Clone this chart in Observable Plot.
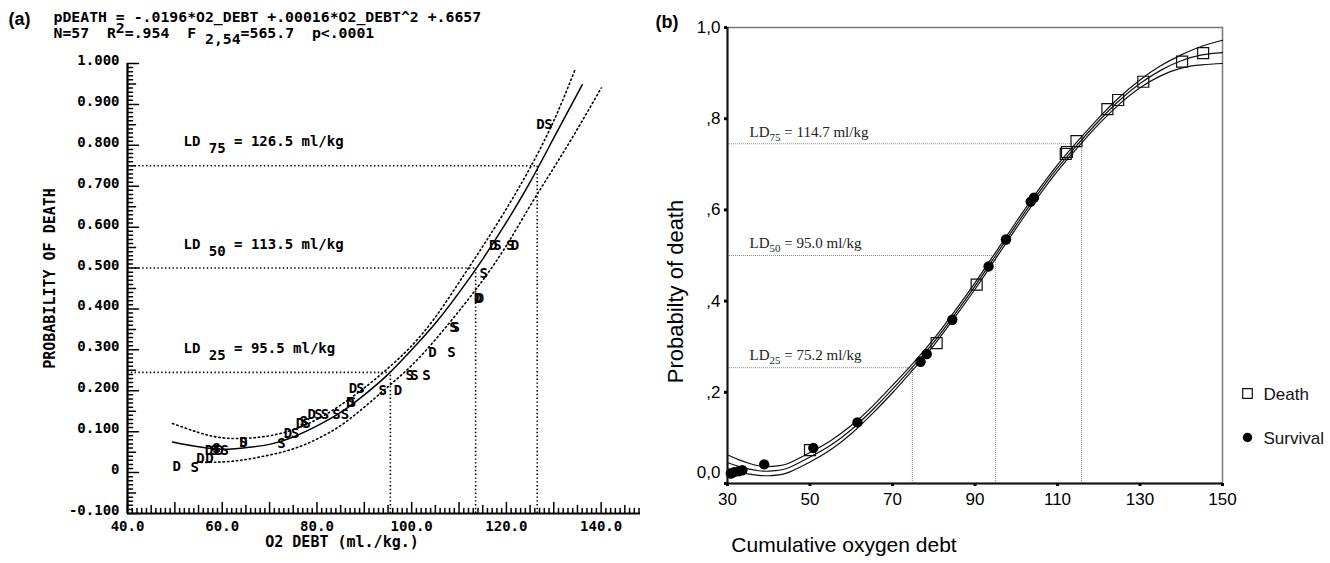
<!DOCTYPE html>
<html><head><meta charset="utf-8">
<script src="https://cdn.jsdelivr.net/npm/d3@7"></script>
<script src="https://cdn.jsdelivr.net/npm/@observablehq/plot@0.6"></script>
<style>
html,body{margin:0;padding:0;background:#fff;}
#wrap{position:relative;width:1330px;height:563px;overflow:hidden;background:#fff;}
#pa{position:absolute;left:0;top:0;}
#pb{position:absolute;left:640px;top:0;}
svg text{white-space:pre;}
</style></head><body><div id="wrap"><div id="pa"></div><div id="pb"></div></div>
<script>
// ---------- Panel (a) data ----------
const aXDomain = [40, 150];
const aYDomain = [-0.1, 1.0];
const aXTicks = [40, 60, 80, 100, 120, 140];
const aXTickLabels = ["40.0", "60.0", "80.0", "100.0", "120.0", "140.0"];
const aYTicks = [-0.1, 0, 0.1, 0.2, 0.3, 0.4, 0.5, 0.6, 0.7, 0.8, 0.9, 1.0];
const aYTickLabels = ["-0.100", "0", "0.100", "0.200", "0.300", "0.400", "0.500", "0.600", "0.700", "0.800", "0.900", "1.000"];

const aFitX = [49.5, 55, 60, 65, 70, 75, 80, 85, 90, 95, 100, 105, 110, 115, 120, 125, 130, 136];
const aFitY = [0.075, 0.063, 0.057, 0.061, 0.069, 0.087, 0.114, 0.147, 0.19, 0.24, 0.30, 0.365, 0.44, 0.522, 0.612, 0.71, 0.818, 0.948];
const aUpperX = [49.5, 55, 60, 65, 70, 75, 80, 85, 90, 95, 100, 105, 110, 115, 120, 125, 130, 134.5];
const aUpperY = [0.12, 0.098, 0.085, 0.084, 0.09, 0.105, 0.13, 0.165, 0.207, 0.255, 0.31, 0.38, 0.465, 0.553, 0.645, 0.745, 0.86, 0.985];
const aLowerX = [54.6, 60, 65, 70, 75, 80, 85, 90, 95, 100, 105, 110, 115, 120, 125, 130, 135, 140];
const aLowerY = [0.025, 0.026, 0.032, 0.043, 0.058, 0.082, 0.115, 0.16, 0.21, 0.262, 0.325, 0.395, 0.47, 0.555, 0.652, 0.745, 0.84, 0.94];

const aPtX = [50.4, 54.2, 55.4, 57.3, 57.2, 58.3, 59.4, 60.5, 58.8, 64.5, 64.5, 72.5, 73.9, 75.4, 76.4, 77.8, 77.2, 78.9, 80.3, 81.7, 84.1, 85.9, 87.0, 87.4, 87.6, 89.2, 93.9, 97.1, 99.6, 100.6, 103.1, 104.4, 108.4, 108.8, 109.3, 114.0, 114.4, 115.2, 117.2, 118.1, 120.8, 121.8, 127.2, 128.9];
const aPtY = [0.015, 0.013, 0.034, 0.034, 0.055, 0.055, 0.055, 0.055, 0.058, 0.074, 0.074, 0.072, 0.095, 0.095, 0.12, 0.12, 0.125, 0.143, 0.143, 0.143, 0.143, 0.143, 0.172, 0.172, 0.205, 0.205, 0.2, 0.2, 0.237, 0.237, 0.237, 0.294, 0.294, 0.354, 0.354, 0.425, 0.425, 0.486, 0.554, 0.554, 0.554, 0.554, 0.852, 0.852];
const aPtL = ["D", "S", "D", "D", "D", "S", "D", "S", "S", "D", "S", "S", "D", "S", "D", "S", "S", "D", "S", "S", "S", "S", "D", "S", "D", "S", "S", "D", "S", "S", "S", "D", "S", "S", "S", "D", "D", "S", "D", "S", "S", "D", "D", "S"];

const aLDLevels = [0.245, 0.5, 0.75];
const aLDValues = [95.5, 113.5, 126.5];
const aLDLabels = ["LD 25 = 95.5 ml/kg", "LD 50 = 113.5 ml/kg", "LD 75 = 126.5 ml/kg"];

const aHeader1 = "pDEATH = -.0196*O2_DEBT +.00016*O2_DEBT^2 +.6657";
const aHeader2 = "N=57  R2=.954  F2,54=565.7  p<.0001";
const aXLabel = "O2 DEBT (ml./kg.)";
const aYLabel = "PROBABILITY OF DEATH";

// ---------- Panel (b) data ----------
const bXDomain = [30, 150];
const bYDomain = [0, 1];
const bXTicks = [30, 50, 70, 90, 110, 130, 150];
const bXTickLabels = ["30", "50", "70", "90", "110", "130", "150"];
const bYTicks = [0, 0.2, 0.4, 0.6, 0.8, 1.0];
const bYTickLabels = ["0,0", ",2", ",4", ",6", ",8", "1,0"];

const bCurveX = [30, 32.5, 35, 37.5, 40, 42.5, 45, 50, 55, 60, 65, 70, 75, 80, 85, 90, 95, 100, 105, 110, 115, 120, 125, 130, 135, 140, 145, 150];
const bFitY = [0.046, 0.038, 0.032, 0.028, 0.027, 0.029, 0.035, 0.058, 0.084, 0.118, 0.16, 0.207, 0.257, 0.31, 0.37, 0.433, 0.50, 0.567, 0.632, 0.692, 0.745, 0.795, 0.84, 0.877, 0.906, 0.927, 0.94, 0.945];
const bUpperY = [0.063, 0.053, 0.045, 0.039, 0.037, 0.039, 0.045, 0.068, 0.094, 0.127, 0.168, 0.215, 0.264, 0.317, 0.377, 0.44, 0.507, 0.574, 0.639, 0.699, 0.752, 0.802, 0.847, 0.885, 0.916, 0.94, 0.959, 0.972];
const bLowerY = [0.032, 0.026, 0.021, 0.018, 0.017, 0.019, 0.025, 0.047, 0.074, 0.109, 0.152, 0.199, 0.25, 0.303, 0.363, 0.426, 0.493, 0.56, 0.625, 0.685, 0.738, 0.788, 0.832, 0.868, 0.894, 0.911, 0.918, 0.921];

const bSurvX = [30.8, 31.6, 32.8, 33.6, 38.9, 50.8, 61.5, 76.8, 78.3, 84.5, 93.3, 97.5, 103.5, 104.3];
const bSurvY = [0.022, 0.025, 0.027, 0.029, 0.042, 0.078, 0.134, 0.267, 0.284, 0.359, 0.476, 0.535, 0.618, 0.627];
const bDeathX = [50.0, 80.7, 90.4, 112.0, 112.3, 114.6, 122.1, 124.7, 130.8, 140.2, 145.3];
const bDeathY = [0.073, 0.308, 0.436, 0.723, 0.727, 0.751, 0.821, 0.841, 0.881, 0.925, 0.944];

const bLDLevels = [0.254, 0.5, 0.745];
const bLDValues = [74.8, 95.0, 115.8];
const bLDLabels = ["LD25 = 75.2 ml/kg", "LD50 = 95.0 ml/kg", "LD75 = 114.7 ml/kg"];

const bXLabel = "Cumulative oxygen debt";
const bYLabel = "Probabilty of death";
const bLegend = ["Death", "Survival"];

// ---------- build tables ----------
const zipXY = (xs, ys) => xs.map((x, i) => ({x, y: ys[i]}));
const aFit = zipXY(aFitX, aFitY), aUp = zipXY(aUpperX, aUpperY), aLo = zipXY(aLowerX, aLowerY);
const aPts = aPtX.map((x, i) => ({x, y: aPtY[i], t: aPtL[i]}));
const aLD = aLDLevels.map((lv, i) => ({level: lv, value: aLDValues[i], label: aLDLabels[i]}));
const bFit = zipXY(bCurveX, bFitY), bUp = zipXY(bCurveX, bUpperY), bLo = zipXY(bCurveX, bLowerY);
const bSurv = zipXY(bSurvX, bSurvY), bDeath = zipXY(bDeathX, bDeathY);
const bLD = bLDLevels.map((lv, i) => ({level: lv, value: bLDValues[i], label: bLDLabels[i]}));

// ---------- layout ----------
const A = {w: 665, h: 563, ml: 127, mr: 17, mt: 63, mb: 50};
const AFW = A.w - A.ml - A.mr, AFH = A.h - A.mt - A.mb;

// ruler ticks of panel (a), drawn inward: every 1 / 5 / 10 units on x, every .01 / .05 / .1 on y
const aTickXs = d3.range(40, 151, 1);
const aTickYs = d3.range(-100, 1001, 10);   // thousandths
const ySpan = aYDomain[1] - aYDomain[0], xSpan = aXDomain[1] - aXDomain[0];
const xTickLen = t => (t % 10 === 0 ? 11 : t % 5 === 0 ? 8 : 5);
const yTickLen = m => (m % 100 === 0 ? 11 : m % 50 === 0 ? 8 : 5);
// each tick = a two-point segment, lengths in pixels converted into data units
const aTickSegX = aTickXs.flatMap(t => [
  {k: "x" + t, x: t, y: aYDomain[0]},
  {k: "x" + t, x: t, y: aYDomain[0] + ySpan * xTickLen(t) / AFH}
]);
const aTickSegY = aTickYs.flatMap(m => [
  {k: "y" + m, x: aXDomain[0], y: m / 1000},
  {k: "y" + m, x: aXDomain[0] + xSpan * yTickLen(m) / AFW, y: m / 1000}
]);

const mono = "'DejaVu Sans Mono', monospace";
const sans = "'Liberation Sans', Arial, Helvetica, sans-serif";
const serif = "'Liberation Serif', 'Times New Roman', serif";

// ---------- Panel (a) ----------
const plotA = Plot.plot({
  width: A.w, height: A.h,
  marginLeft: A.ml, marginRight: A.mr, marginTop: A.mt, marginBottom: A.mb,
  x: {domain: aXDomain},
  y: {domain: aYDomain},
  style: {fontFamily: mono, fontSize: "14px", fontWeight: "bold", background: "white", color: "black", overflow: "visible"},
  marks: [
    Plot.ruleY(aLD, {y: "level", x1: aXDomain[0], x2: "value", stroke: "black", strokeWidth: 1.6, strokeDasharray: "1.4,2.4"}),
    Plot.ruleX(aLD, {x: "value", y1: aYDomain[0], y2: "level", stroke: "black", strokeWidth: 1.6, strokeDasharray: "1.4,2.4"}),
    Plot.line(aUp, {x: "x", y: "y", curve: "natural", stroke: "black", strokeWidth: 1.6, strokeDasharray: "1.4,3"}),
    Plot.line(aLo, {x: "x", y: "y", curve: "natural", stroke: "black", strokeWidth: 1.6, strokeDasharray: "1.4,3"}),
    Plot.line(aFit, {x: "x", y: "y", curve: "natural", stroke: "black", strokeWidth: 1.5}),
    Plot.text(aPts, {x: "x", y: "y", text: "t", fontSize: 14, fontWeight: "bold", fill: "black"}),
    Plot.text(aLD, {y: "level", text: "label", frameAnchor: "left", dx: 56, dy: -24, textAnchor: "start", fontSize: 14, fontWeight: "bold", fill: "black"}),
    Plot.line(aTickSegX, {x: "x", y: "y", z: "k", stroke: "black", strokeWidth: 1.5}),
    Plot.line(aTickSegY, {x: "x", y: "y", z: "k", stroke: "black", strokeWidth: 1.5}),
    Plot.ruleX([aXDomain[0]], {stroke: "black", strokeWidth: 2.2}),
    Plot.ruleY([aYDomain[0]], {stroke: "black", strokeWidth: 2.2}),
    Plot.axisY({ticks: aYTicks, tickFormat: d => aYTickLabels[aYTicks.indexOf(d)], tickSize: 0, tickPadding: 8, dy: -3, label: null, fontWeight: "bold", fontSize: 14}),
    Plot.axisX({ticks: aXTicks, tickFormat: d => aXTickLabels[aXTicks.indexOf(d)], tickSize: 0, tickPadding: 8, label: null, fontWeight: "bold", fontSize: 14}),
    Plot.text([aYLabel], {frameAnchor: "left", textAnchor: "middle", rotate: -90, dx: -77, dy: -10, fontSize: 15, fontWeight: "bold", fill: "black"}),
    Plot.text([aXLabel], {frameAnchor: "bottom", textAnchor: "middle", dx: -46, dy: 33, fontSize: 15, fontWeight: "bold", fill: "black"}),
    Plot.text([aHeader1], {frameAnchor: "top-left", dx: -74, dy: -52, textAnchor: "start", fontSize: 14.8, fontWeight: "bold", fill: "black"}),
    Plot.text([aHeader2], {frameAnchor: "top-left", dx: -74, dy: -36, textAnchor: "start", fontSize: 14.8, fontWeight: "bold", fill: "black"}),
    Plot.text(["(a)"], {frameAnchor: "top-left", dx: -119, dy: -51, textAnchor: "start", fontFamily: sans, fontWeight: "bold", fontSize: 18, fill: "black"})
  ]
});
document.getElementById("pa").appendChild(plotA);

// ---------- Panel (b) ----------
const plotB = Plot.plot({
  width: 690, height: 563,
  marginLeft: 87, marginRight: 108, marginTop: 27, marginBottom: 80,
  x: {domain: bXDomain},
  y: {domain: bYDomain},
  style: {fontFamily: sans, fontSize: "17px", background: "white", color: "black", overflow: "visible"},
  marks: [
    Plot.frame({stroke: "#777", strokeWidth: 1.5}),
    Plot.ruleY(bLD, {y: "level", x1: bXDomain[0], x2: "value", stroke: "#888", strokeWidth: 1, strokeDasharray: "1,1"}),
    Plot.ruleX(bLD, {x: "value", y1: bYDomain[0], y2: "level", stroke: "#888", strokeWidth: 1, strokeDasharray: "1,1"}),
    Plot.line(bUp, {x: "x", y: "y", curve: "natural", stroke: "#111", strokeWidth: 1.2}),
    Plot.line(bFit, {x: "x", y: "y", curve: "natural", stroke: "#111", strokeWidth: 1.2}),
    Plot.line(bLo, {x: "x", y: "y", curve: "natural", stroke: "#111", strokeWidth: 1.2}),
    Plot.dot(bDeath, {x: "x", y: "y", symbol: "square", r: 6.2, stroke: "#111", strokeWidth: 1.2, fill: "none"}),
    Plot.dot(bSurv, {x: "x", y: "y", symbol: "circle", r: 5.2, fill: "black", stroke: "none"}),
    Plot.text(bLD, {y: "level", text: "label", frameAnchor: "left", dx: 22, dy: -12, textAnchor: "start", fontFamily: serif, fontSize: 15, fill: "#222"}),
    Plot.ruleX([bXDomain[0]], {stroke: "#111", strokeWidth: 2}),
    Plot.ruleY([bYDomain[0]], {stroke: "#111", strokeWidth: 2}),
    Plot.axisY({ticks: bYTicks, tickFormat: d => (d === 0 ? "" : bYTickLabels[bYTicks.indexOf(d)]), tickSize: 3, strokeWidth: 3, tickPadding: 4, label: null, fontSize: 17}),
    Plot.text([bYTicks[0]], {y: d => d, text: d => bYTickLabels[bYTicks.indexOf(d)], frameAnchor: "left", dx: -7, dy: -11, textAnchor: "end", fontSize: 17, fill: "black"}),
    Plot.axisX({ticks: bXTicks, tickFormat: d => bXTickLabels[bXTicks.indexOf(d)], tickSize: 3, strokeWidth: 3, tickPadding: 6, label: null, fontSize: 17}),
    Plot.text([bYLabel], {frameAnchor: "left", textAnchor: "middle", rotate: -90, dx: -52, dy: 36, fontSize: 22, fill: "black"}),
    Plot.text([bXLabel], {frameAnchor: "bottom", textAnchor: "middle", dx: -131, dy: 68, fontSize: 21, fill: "black"}),
    Plot.text(["(b)"], {frameAnchor: "top-left", dx: -72, dy: -12, textAnchor: "start", fontWeight: "bold", fontSize: 18, fill: "black"}),
    Plot.dot([bLegend[0]], {frameAnchor: "right", dx: 25, dy: 138, symbol: "square", r: 5.4, stroke: "#111", strokeWidth: 1.2, fill: "white"}),
    Plot.dot([bLegend[1]], {frameAnchor: "right", dx: 25, dy: 182, symbol: "circle", r: 4.7, fill: "black"}),
    Plot.text([bLegend[0]], {frameAnchor: "right", dx: 41, dy: 139, textAnchor: "start", fontSize: 17, fill: "#111"}),
    Plot.text([bLegend[1]], {frameAnchor: "right", dx: 41, dy: 183, textAnchor: "start", fontSize: 17, fill: "#111"})
  ]
});
document.getElementById("pb").appendChild(plotB);

// ---------- sub/superscripts ----------
function richText(svg) {
  svg.querySelectorAll("text").forEach(t => {
    const s = t.textContent;
    let m;
    if ((m = s.match(/^LD (\d+)( = .*)$/))) {
      t.innerHTML = `LD <tspan dy="7">${m[1]}</tspan><tspan dy="-7">${m[2]}</tspan>`;
    } else if ((m = s.match(/^LD(\d+)( = .*)$/))) {
      t.innerHTML = `LD<tspan dy="4" font-size="11">${m[1]}</tspan><tspan dy="-4">${m[2]}</tspan>`;
    } else if (s === aHeader2) {
      t.innerHTML = `N=57  R<tspan dy="-5">2</tspan><tspan dy="5">=.954  F</tspan><tspan dy="6"> 2,54</tspan><tspan dy="-6">=565.7  p&lt;.0001</tspan>`;
    }
  });
}
richText(plotA);
richText(plotB);
</script>
</body></html>
